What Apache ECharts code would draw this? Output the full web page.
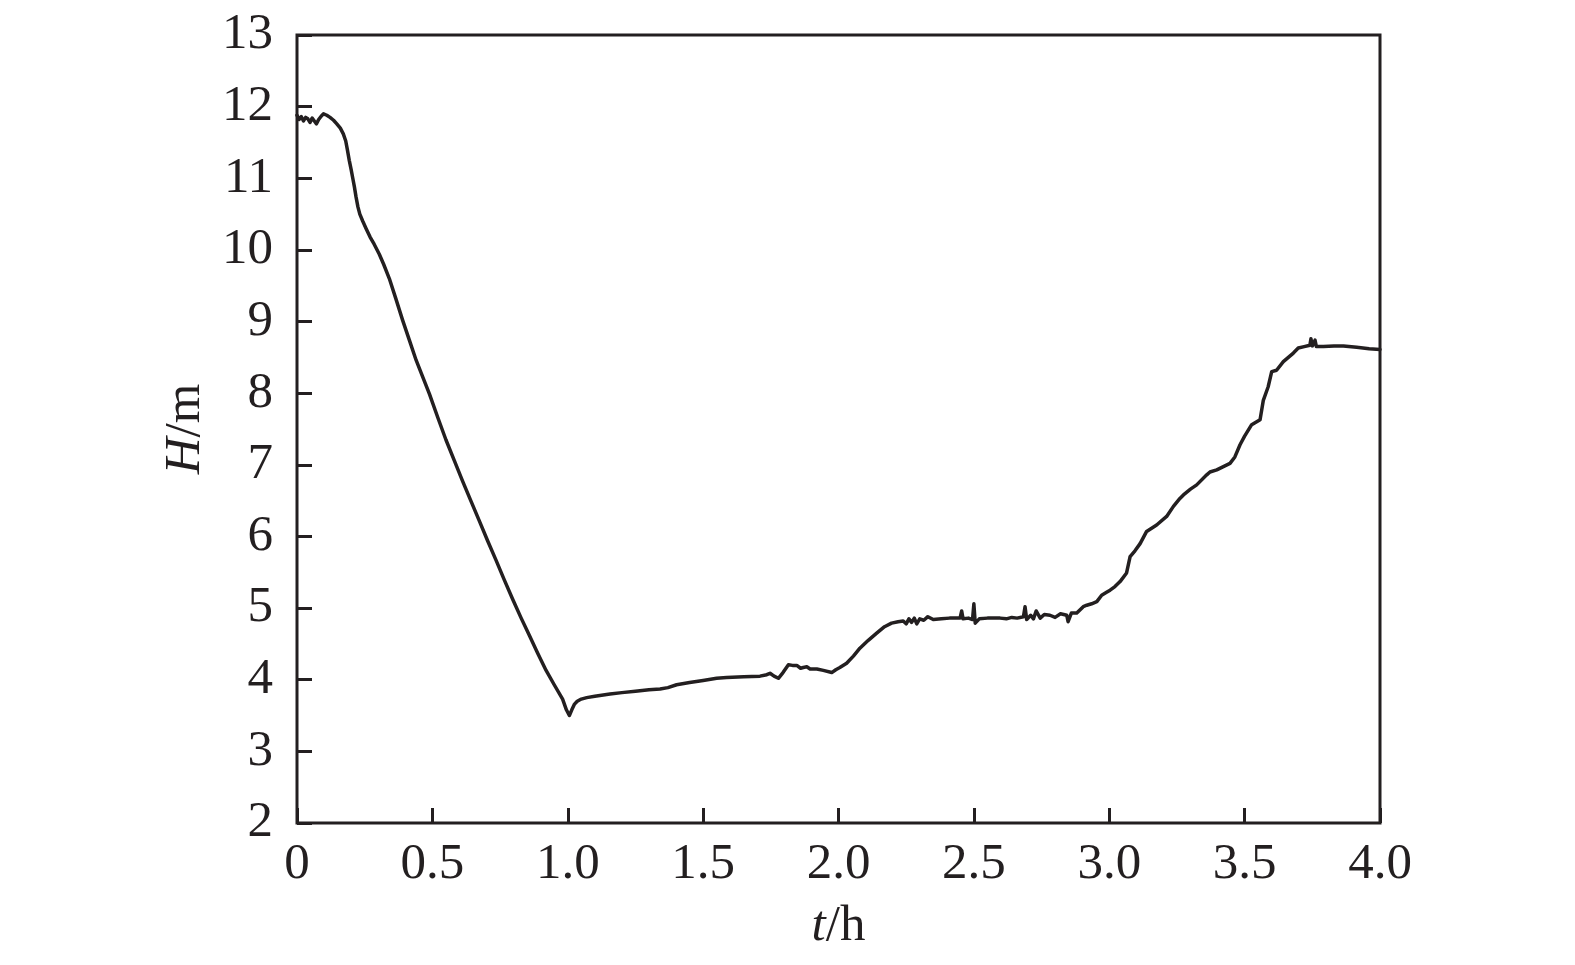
<!DOCTYPE html>
<html>
<head>
<meta charset="utf-8">
<script src="https://cdn.jsdelivr.net/npm/echarts@6/dist/echarts.min.js"></script>
<style>
html,body{margin:0;padding:0;background:#fff;}
#chart{width:1575px;height:965px;}
</style>
</head>
<body>
<div id="chart"></div>
<script>
// time in hours
const tValues = [0.000,0.008,0.016,0.024,0.032,0.040,0.048,0.056,0.064,0.072,0.080,0.090,0.098,0.110,0.122,0.135,0.147,0.160,0.171,0.180,0.186,0.193,0.200,0.206,0.212,0.218,0.225,0.232,0.243,0.255,0.270,0.285,0.304,0.320,0.341,0.365,0.390,0.415,0.440,0.465,0.489,0.520,0.550,0.580,0.612,0.643,0.673,0.704,0.735,0.766,0.797,0.828,0.858,0.889,0.920,0.950,0.981,0.995,1.006,1.015,1.025,1.035,1.050,1.070,1.100,1.156,1.200,1.250,1.300,1.341,1.370,1.402,1.450,1.500,1.550,1.587,1.650,1.710,1.735,1.747,1.762,1.778,1.795,1.815,1.830,1.846,1.860,1.870,1.883,1.895,1.920,1.944,1.975,1.990,2.005,2.030,2.055,2.079,2.110,2.141,2.170,2.196,2.220,2.239,2.250,2.260,2.270,2.280,2.289,2.300,2.315,2.330,2.350,2.380,2.410,2.449,2.455,2.460,2.480,2.495,2.500,2.505,2.520,2.550,2.597,2.620,2.640,2.660,2.683,2.689,2.695,2.710,2.720,2.730,2.745,2.760,2.781,2.800,2.820,2.843,2.848,2.860,2.880,2.904,2.917,2.935,2.954,2.972,2.990,3.003,3.021,3.040,3.064,3.077,3.095,3.114,3.138,3.175,3.212,3.237,3.261,3.274,3.300,3.323,3.360,3.372,3.397,3.446,3.464,3.483,3.500,3.526,3.557,3.569,3.587,3.600,3.618,3.643,3.680,3.698,3.720,3.741,3.745,3.750,3.760,3.765,3.791,3.830,3.865,3.914,3.960,4.000];
// head in metres
const hValues = [11.88,11.82,11.86,11.80,11.85,11.83,11.78,11.84,11.80,11.76,11.82,11.87,11.90,11.88,11.85,11.81,11.76,11.70,11.62,11.52,11.40,11.25,11.12,11.00,10.88,10.74,10.60,10.50,10.40,10.30,10.18,10.08,9.94,9.80,9.60,9.32,9.02,8.74,8.46,8.22,7.99,7.66,7.35,7.07,6.77,6.49,6.22,5.94,5.67,5.39,5.12,4.86,4.62,4.37,4.13,3.93,3.73,3.58,3.50,3.58,3.66,3.70,3.73,3.75,3.77,3.80,3.82,3.84,3.86,3.87,3.89,3.93,3.96,3.99,4.02,4.03,4.04,4.05,4.07,4.09,4.05,4.02,4.10,4.21,4.20,4.20,4.16,4.17,4.18,4.15,4.15,4.13,4.10,4.14,4.17,4.23,4.33,4.44,4.55,4.65,4.74,4.79,4.81,4.82,4.78,4.85,4.80,4.86,4.78,4.85,4.83,4.88,4.84,4.85,4.86,4.86,4.96,4.85,4.86,4.84,5.06,4.79,4.85,4.86,4.86,4.85,4.87,4.86,4.88,5.02,4.84,4.90,4.85,4.96,4.86,4.91,4.90,4.87,4.92,4.90,4.81,4.93,4.93,5.02,5.04,5.06,5.09,5.18,5.22,5.25,5.30,5.37,5.49,5.72,5.80,5.90,6.07,6.16,6.28,6.42,6.53,6.58,6.66,6.72,6.86,6.90,6.93,7.02,7.11,7.28,7.40,7.56,7.63,7.90,8.09,8.30,8.32,8.44,8.56,8.63,8.65,8.67,8.76,8.66,8.74,8.65,8.65,8.66,8.66,8.64,8.62,8.61];

const xTickLabels = ['0','0.5','1.0','1.5','2.0','2.5','3.0','3.5','4.0'];
const yTickLabels = ['2','3','4','5','6','7','8','9','10','11','12','13'];

const ink = '#231f20';
const FONT = '"Liberation Serif","Times New Roman",serif';

const chart = echarts.init(document.getElementById('chart'), null, {renderer:'canvas'});
chart.setOption({
  animation:false,
  backgroundColor:'#fff',
  grid:{left:297,right:195,top:35,bottom:142,show:true,borderColor:ink,borderWidth:3,backgroundColor:'transparent'},
  xAxis:{
    type:'value',min:0,max:4,interval:0.5,
    axisLine:{show:false},
    axisTick:{show:true,inside:true,length:15,lineStyle:{color:ink,width:3}},
    splitLine:{show:false},
    axisLabel:{color:ink,fontFamily:FONT,fontSize:51,margin:16,
      formatter:function(v){return xTickLabels[Math.round(v/0.5)];}},
    name:'{i|t}{n|/h}',nameLocation:'middle',nameGap:78,
    nameTextStyle:{rich:{i:{fontFamily:FONT,fontSize:51,fontStyle:'italic',color:ink},n:{fontFamily:FONT,fontSize:51,color:ink}}}
  },
  yAxis:{
    type:'value',min:2,max:13,interval:1,
    axisLine:{show:false},
    axisTick:{show:true,inside:true,length:15,lineStyle:{color:ink,width:3}},
    splitLine:{show:false},
    axisLabel:{color:ink,fontFamily:FONT,fontSize:51,margin:24,
      formatter:function(v){return yTickLabels[Math.round(v-2)];}},
    name:'{i|H}{n|/m}',nameLocation:'middle',nameGap:85,
    nameTextStyle:{rich:{i:{fontFamily:FONT,fontSize:51,fontStyle:'italic',color:ink},n:{fontFamily:FONT,fontSize:51,color:ink}}}
  },
  series:[{
    type:'line',
    data:tValues.map(function(t,i){return [t,hValues[i]];}),
    showSymbol:false,
    lineStyle:{color:ink,width:3.5,join:'round',cap:'round'},
    clip:true
  }]
});
</script>
</body>
</html>
